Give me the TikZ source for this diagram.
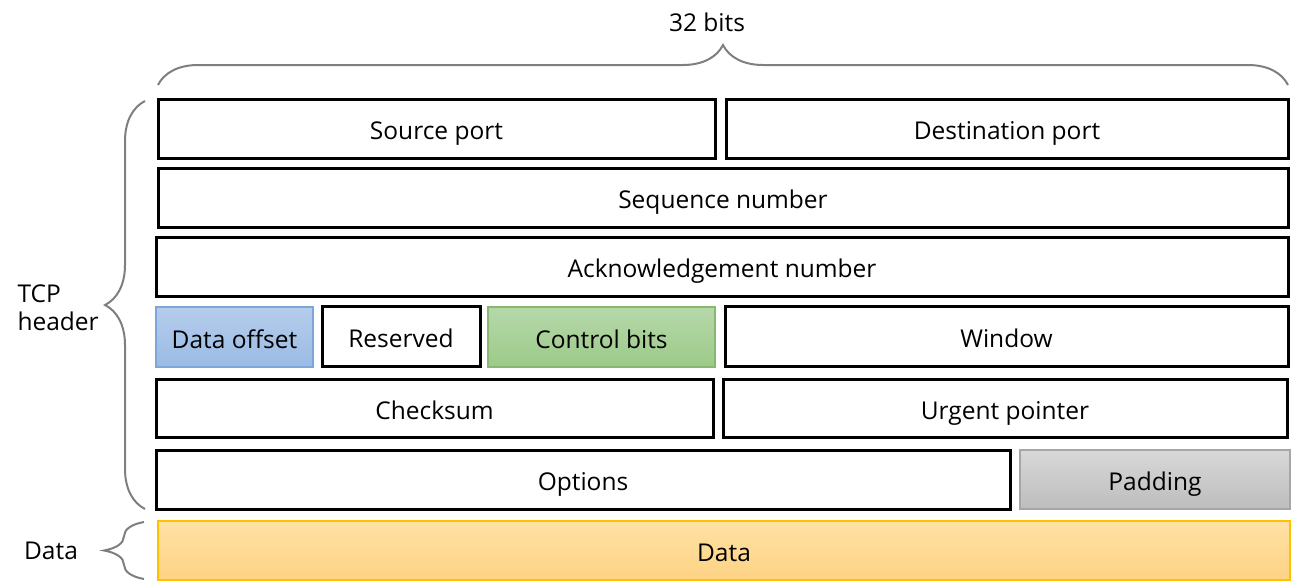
\documentclass[tikz,border=0pt]{standalone}
\usepackage{fontspec}
\setmainfont{Open Sans}
\usetikzlibrary{decorations.pathreplacing}

\definecolor{offtop}{HTML}{B5CDEB}
\definecolor{offbot}{HTML}{9ABBE4}
\definecolor{offline}{HTML}{7EA6D8}
\definecolor{ctltop}{HTML}{B6D8AA}
\definecolor{ctlbot}{HTML}{9CCA89}
\definecolor{ctlline}{HTML}{88B86F}
\definecolor{padtop}{HTML}{D8D8D8}
\definecolor{padbot}{HTML}{BDBDBD}
\definecolor{padline}{HTML}{A6A6A6}
\definecolor{datatop}{HTML}{FFE2A6}
\definecolor{databot}{HTML}{FDD283}
\definecolor{dataline}{HTML}{FFC000}
\definecolor{bracegray}{HTML}{7F7F7F}

\begin{document}
\begin{tikzpicture}[x=1pt, y=-1pt,
  font=\fontsize{24.5}{28}\selectfont,
  boxtext/.style={inner sep=0, text height=26, text depth=4},
  field/.style={boxtext, draw=black, line width=3, minimum height=59},
  tinted/.style={boxtext, draw, line width=1.2, minimum height=59},
  curly/.style={draw=bracegray, line width=2, decorate, decoration={brace, amplitude=40}}]
  \useasboundingbox (0,0) rectangle (1291,582);

  % header rows
  \node[field, minimum width=557] (src) at (436.5,128.5) {Source port};
  \node[field, minimum width=562] (dst) at (1007,128.5) {Destination port};
  \node[field, minimum width=1130] (seq) at (723,197.5) {Sequence number};
  \node[field, minimum width=1132] (ack) at (722,266.5) {Acknowledgement number};

  \node[tinted, draw=offline, top color=offtop, bottom color=offbot, minimum width=157, minimum height=60] (off) at (234.5,337) {Data offset};
  \node[field, minimum width=158, minimum height=60] (res) at (401,336) {Reserved};
  \node[tinted, draw=ctlline, top color=ctltop, bottom color=ctlbot, minimum width=227, minimum height=60] (ctl) at (601.5,337) {Control bits};
  \node[field, minimum width=563, minimum height=60] (win) at (1006.5,336) {Window};

  \node[field, minimum width=557, minimum height=58] (chk) at (434.5,408) {Checksum};
  \node[field, minimum width=564, minimum height=58] (urg) at (1005,408) {Urgent pointer};

  \node[field, minimum width=854] (opt) at (583,479.5) {Options};
  \node[tinted, draw=padline, top color=padtop, bottom color=padbot, minimum width=270] (pad) at (1155,479.5) {Padding};

  % payload
  \node[tinted, draw=dataline, top color=datatop, bottom color=databot, minimum width=1132] (data) at (724,550.5) {Data};

  % braces and their labels
  \coordinate (wl) at (158,85);
  \coordinate (wr) at (1288,85);
  \draw[curly] (wl) -- (wr);
  \node (bits) at (707,22) {32 bits};

  \coordinate (hb) at (145,509);
  \coordinate (ht) at (145,101);
  \draw[curly] (hb) -- (ht);
  \node[anchor=west, align=left] (hdr) at (14,308) {TCP\\header};

  \coordinate (db) at (144,579);
  \coordinate (dt) at (144,522);
  \draw[curly] (db) -- (dt);
  \node (dlbl) at (51,551) {Data};
\end{tikzpicture}
\end{document}
